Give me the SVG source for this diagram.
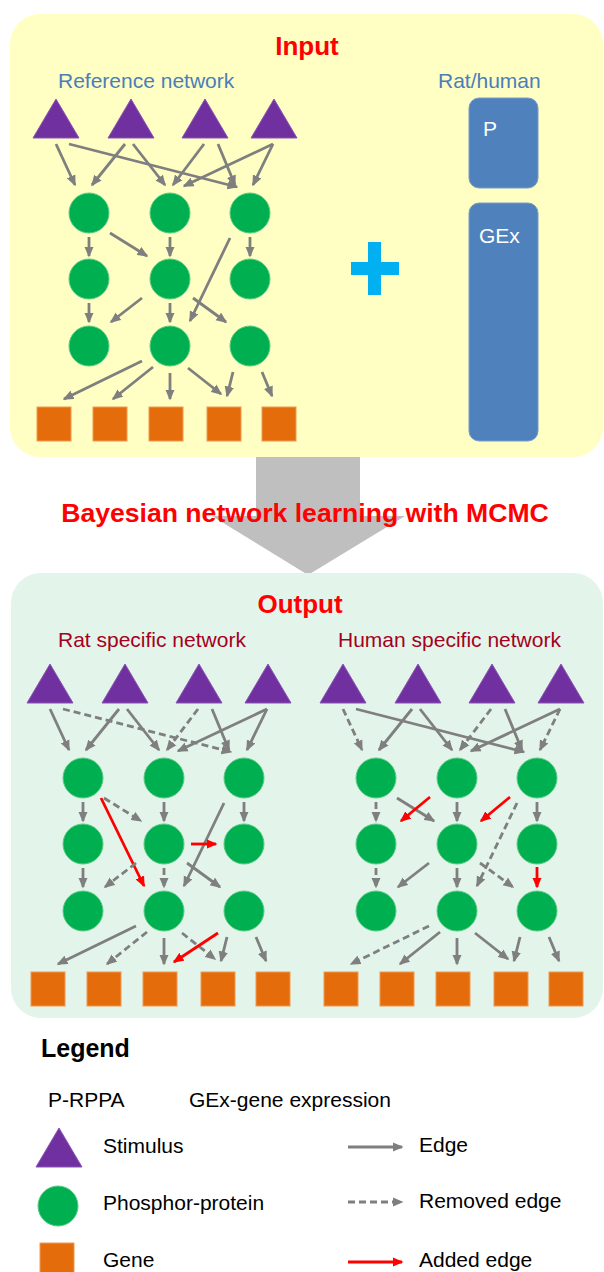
<svg xmlns="http://www.w3.org/2000/svg" xmlns:xlink="http://www.w3.org/1999/xlink" width="604" height="1272" viewBox="0 0 604 1272">
  <style>
    text { font-family: "Liberation Sans", Arial, sans-serif; }
    .title { font-size: 26px; font-weight: bold; fill: #FF0000; }
    .sub-blue { font-size: 21px; fill: #4A7EBB; }
    .sub-red { font-size: 21px; fill: #A50021; }
    .bar-label { font-size: 21px; fill: #FFFFFF; }
    .legend { font-size: 21px; fill: #000000; }
    .legend-title { font-size: 25px; font-weight: bold; fill: #000000; }
    .stim { fill: #7030A0; stroke: #8A55B5; stroke-width: 1; }
    .prot { fill: #00B050; stroke: #5CCB85; stroke-width: 1; }
    .gene { fill: #E46C0A; stroke: #EE9A55; stroke-width: 1; }
    .edge { stroke: #7F7F7F; stroke-width: 2.8; fill: none; marker-end: url(#ah-gray); }
    .removed { stroke-dasharray: 7 4; }
    .added { stroke: #FF0000; marker-end: url(#ah-red); }
  </style>
  <defs>
    <marker id="ah-gray" viewBox="0 0 11 10" refX="9.5" refY="5" markerWidth="11" markerHeight="10" markerUnits="userSpaceOnUse" orient="auto">
      <path d="M0,0.3 L11,5 L0,9.7 Z" fill="#7F7F7F"/>
    </marker>
    <marker id="ah-red" viewBox="0 0 11 10" refX="9.5" refY="5" markerWidth="11" markerHeight="10" markerUnits="userSpaceOnUse" orient="auto">
      <path d="M0,0.3 L11,5 L0,9.7 Z" fill="#FF0000"/>
    </marker>
  </defs>

  <rect width="604" height="1272" fill="#FFFFFF"/>

  <!-- processing step arrow between the two panels -->
  <g id="learning-arrow">
    <polygon points="256,450 360,450 360,516 405,516 308,575 212,516 256,516" fill="#BFBFBF"/>
  </g>

  <!-- panels -->
  <rect id="input-panel" x="10" y="14" width="593" height="443" rx="30" fill="#FFFFC3"/>
  <rect id="output-panel" x="11" y="573" width="592" height="445" rx="30" fill="#E3F4EA"/>

  <text class="title" x="307" y="55" text-anchor="middle">Input</text>
  <text class="title" x="305" y="522" text-anchor="middle" style="font-size:26.6px">Bayesian network learning with MCMC</text>
  <text class="title" x="300" y="613" text-anchor="middle">Output</text>

  <text class="sub-blue" x="58" y="88">Reference network</text>
  <text class="sub-blue" x="438" y="88">Rat/human</text>
  <text class="sub-red" x="58" y="647">Rat specific network</text>
  <text class="sub-red" x="338" y="647">Human specific network</text>

  <!-- data blocks -->
  <g id="data-p">
    <rect x="469" y="98" width="69" height="90" rx="10" fill="#4F81BD" stroke="#7A9CCB" stroke-width="1"/>
    <text class="bar-label" x="483" y="136">P</text>
  </g>
  <g id="data-gex">
    <rect x="469" y="203" width="69" height="238" rx="10" fill="#4F81BD" stroke="#7A9CCB" stroke-width="1"/>
    <text class="bar-label" x="479" y="243">GEx</text>
  </g>
  <g id="plus">
    <rect x="351" y="262" width="48" height="13" fill="#00B0F0"/>
    <rect x="368" y="242" width="13" height="53" fill="#00B0F0"/>
  </g>

  <!-- ===== Reference network ===== -->
  <g id="ref-network">
    <g id="ref-edges">
      <line class="edge" x1="56" y1="144" x2="75" y2="185"/>
      <line class="edge" x1="69" y1="144" x2="237" y2="187"/>
      <line class="edge" x1="125" y1="144" x2="92" y2="185"/>
      <line class="edge" x1="133" y1="144" x2="165" y2="185"/>
      <line class="edge" x1="204" y1="144" x2="173" y2="185"/>
      <line class="edge" x1="218" y1="144" x2="235" y2="185"/>
      <line class="edge" x1="273" y1="144" x2="184" y2="186"/>
      <line class="edge" x1="273" y1="144" x2="253" y2="185"/>
      <line class="edge" x1="89" y1="237" x2="89" y2="256"/>
      <line class="edge" x1="110" y1="233" x2="147" y2="256"/>
      <line class="edge" x1="170" y1="237" x2="170" y2="256"/>
      <line class="edge" x1="250" y1="237" x2="250" y2="256"/>
      <line class="edge" x1="230" y1="238" x2="190" y2="321"/>
      <line class="edge" x1="89" y1="303" x2="89" y2="322"/>
      <line class="edge" x1="142" y1="298" x2="111" y2="322"/>
      <line class="edge" x1="170" y1="303" x2="170" y2="322"/>
      <line class="edge" x1="193" y1="298" x2="226" y2="322"/>
      <line class="edge" x1="142" y1="361" x2="64" y2="399"/>
      <line class="edge" x1="153" y1="367" x2="113" y2="399"/>
      <line class="edge" x1="170" y1="373" x2="170" y2="399"/>
      <line class="edge" x1="188" y1="368" x2="221" y2="394"/>
      <line class="edge" x1="233" y1="372" x2="227" y2="396"/>
      <line class="edge" x1="262" y1="372" x2="272" y2="396"/>
    </g>
    <g id="ref-t1"><path class="stim" d="M56,99 L79,138 L33,138 Z"/></g>
    <g id="ref-t2"><path class="stim" d="M131,99 L154,138 L108,138 Z"/></g>
    <g id="ref-t3"><path class="stim" d="M205,99 L228,138 L182,138 Z"/></g>
    <g id="ref-t4"><path class="stim" d="M274,99 L297,138 L251,138 Z"/></g>
    <g id="ref-p1"><circle class="prot" cx="89" cy="213" r="20"/></g>
    <g id="ref-p2"><circle class="prot" cx="170" cy="213" r="20"/></g>
    <g id="ref-p3"><circle class="prot" cx="250" cy="213" r="20"/></g>
    <g id="ref-p4"><circle class="prot" cx="89" cy="279" r="20"/></g>
    <g id="ref-p5"><circle class="prot" cx="170" cy="279" r="20"/></g>
    <g id="ref-p6"><circle class="prot" cx="250" cy="279" r="20"/></g>
    <g id="ref-p7"><circle class="prot" cx="89" cy="346" r="20"/></g>
    <g id="ref-p8"><circle class="prot" cx="170" cy="346" r="20"/></g>
    <g id="ref-p9"><circle class="prot" cx="250" cy="346" r="20"/></g>
    <g id="ref-g1"><rect class="gene" x="37" y="407" width="34" height="34"/></g>
    <g id="ref-g2"><rect class="gene" x="93" y="407" width="34" height="34"/></g>
    <g id="ref-g3"><rect class="gene" x="149" y="407" width="34" height="34"/></g>
    <g id="ref-g4"><rect class="gene" x="207" y="407" width="34" height="34"/></g>
    <g id="ref-g5"><rect class="gene" x="262" y="407" width="34" height="34"/></g>
  </g>

  <!-- ===== Rat specific network ===== -->
  <g id="rat-network" transform="translate(-6,565)">
    <g id="rat-edges">
      <line class="edge" x1="56" y1="144" x2="75" y2="185"/>
      <line class="edge removed" x1="69" y1="144" x2="237" y2="187"/>
      <line class="edge" x1="125" y1="144" x2="92" y2="185"/>
      <line class="edge" x1="133" y1="144" x2="165" y2="185"/>
      <line class="edge removed" x1="204" y1="144" x2="173" y2="185"/>
      <line class="edge" x1="218" y1="144" x2="235" y2="185"/>
      <line class="edge" x1="273" y1="144" x2="184" y2="186"/>
      <line class="edge" x1="273" y1="144" x2="253" y2="185"/>
      <line class="edge" x1="89" y1="237" x2="89" y2="256"/>
      <line class="edge removed" x1="110" y1="233" x2="147" y2="256"/>
      <line class="edge added" x1="107" y1="233" x2="150" y2="321"/>
      <line class="edge" x1="170" y1="237" x2="170" y2="256"/>
      <line class="edge" x1="250" y1="237" x2="250" y2="256"/>
      <line class="edge" x1="230" y1="238" x2="190" y2="321"/>
      <line class="edge added" x1="197" y1="279" x2="222" y2="279"/>
      <line class="edge" x1="89" y1="303" x2="89" y2="322"/>
      <line class="edge removed" x1="142" y1="298" x2="111" y2="322"/>
      <line class="edge removed" x1="170" y1="303" x2="170" y2="322"/>
      <line class="edge" x1="193" y1="298" x2="226" y2="322"/>
      <line class="edge" x1="142" y1="361" x2="64" y2="399"/>
      <line class="edge removed" x1="153" y1="367" x2="113" y2="399"/>
      <line class="edge" x1="170" y1="373" x2="170" y2="399"/>
      <line class="edge removed" x1="188" y1="368" x2="221" y2="394"/>
      <line class="edge" x1="233" y1="372" x2="227" y2="396"/>
      <line class="edge" x1="262" y1="372" x2="272" y2="396"/>
      <line class="edge added" x1="224" y1="368" x2="180" y2="397"/>
    </g>
    <g id="rat-t1"><path class="stim" d="M56,99 L79,138 L33,138 Z"/></g>
    <g id="rat-t2"><path class="stim" d="M131,99 L154,138 L108,138 Z"/></g>
    <g id="rat-t3"><path class="stim" d="M205,99 L228,138 L182,138 Z"/></g>
    <g id="rat-t4"><path class="stim" d="M274,99 L297,138 L251,138 Z"/></g>
    <g id="rat-p1"><circle class="prot" cx="89" cy="213" r="20"/></g>
    <g id="rat-p2"><circle class="prot" cx="170" cy="213" r="20"/></g>
    <g id="rat-p3"><circle class="prot" cx="250" cy="213" r="20"/></g>
    <g id="rat-p4"><circle class="prot" cx="89" cy="279" r="20"/></g>
    <g id="rat-p5"><circle class="prot" cx="170" cy="279" r="20"/></g>
    <g id="rat-p6"><circle class="prot" cx="250" cy="279" r="20"/></g>
    <g id="rat-p7"><circle class="prot" cx="89" cy="346" r="20"/></g>
    <g id="rat-p8"><circle class="prot" cx="170" cy="346" r="20"/></g>
    <g id="rat-p9"><circle class="prot" cx="250" cy="346" r="20"/></g>
    <g id="rat-g1"><rect class="gene" x="37" y="407" width="34" height="34"/></g>
    <g id="rat-g2"><rect class="gene" x="93" y="407" width="34" height="34"/></g>
    <g id="rat-g3"><rect class="gene" x="149" y="407" width="34" height="34"/></g>
    <g id="rat-g4"><rect class="gene" x="207" y="407" width="34" height="34"/></g>
    <g id="rat-g5"><rect class="gene" x="262" y="407" width="34" height="34"/></g>
  </g>

  <!-- ===== Human specific network ===== -->
  <g id="human-network" transform="translate(287,565)">
    <g id="human-edges">
      <line class="edge removed" x1="56" y1="144" x2="75" y2="185"/>
      <line class="edge" x1="69" y1="144" x2="237" y2="187"/>
      <line class="edge" x1="125" y1="144" x2="92" y2="185"/>
      <line class="edge" x1="133" y1="144" x2="165" y2="185"/>
      <line class="edge removed" x1="204" y1="144" x2="173" y2="185"/>
      <line class="edge" x1="218" y1="144" x2="235" y2="185"/>
      <line class="edge" x1="273" y1="144" x2="184" y2="186"/>
      <line class="edge removed" x1="273" y1="144" x2="253" y2="185"/>
      <line class="edge removed" x1="89" y1="237" x2="89" y2="256"/>
      <line class="edge" x1="110" y1="233" x2="147" y2="256"/>
      <line class="edge added" x1="143" y1="232" x2="114" y2="256"/>
      <line class="edge" x1="170" y1="237" x2="170" y2="256"/>
      <line class="edge added" x1="223" y1="232" x2="194" y2="256"/>
      <line class="edge" x1="250" y1="237" x2="250" y2="256"/>
      <line class="edge removed" x1="230" y1="238" x2="190" y2="321"/>
      <line class="edge removed" x1="89" y1="303" x2="89" y2="322"/>
      <line class="edge" x1="142" y1="298" x2="111" y2="322"/>
      <line class="edge" x1="170" y1="303" x2="170" y2="322"/>
      <line class="edge removed" x1="193" y1="298" x2="226" y2="322"/>
      <line class="edge added" x1="250" y1="302" x2="250" y2="322"/>
      <line class="edge removed" x1="142" y1="361" x2="64" y2="399"/>
      <line class="edge" x1="153" y1="367" x2="113" y2="399"/>
      <line class="edge" x1="170" y1="373" x2="170" y2="399"/>
      <line class="edge" x1="188" y1="368" x2="221" y2="394"/>
      <line class="edge" x1="233" y1="372" x2="227" y2="396"/>
      <line class="edge" x1="262" y1="372" x2="272" y2="396"/>
    </g>
    <g id="human-t1"><path class="stim" d="M56,99 L79,138 L33,138 Z"/></g>
    <g id="human-t2"><path class="stim" d="M131,99 L154,138 L108,138 Z"/></g>
    <g id="human-t3"><path class="stim" d="M205,99 L228,138 L182,138 Z"/></g>
    <g id="human-t4"><path class="stim" d="M274,99 L297,138 L251,138 Z"/></g>
    <g id="human-p1"><circle class="prot" cx="89" cy="213" r="20"/></g>
    <g id="human-p2"><circle class="prot" cx="170" cy="213" r="20"/></g>
    <g id="human-p3"><circle class="prot" cx="250" cy="213" r="20"/></g>
    <g id="human-p4"><circle class="prot" cx="89" cy="279" r="20"/></g>
    <g id="human-p5"><circle class="prot" cx="170" cy="279" r="20"/></g>
    <g id="human-p6"><circle class="prot" cx="250" cy="279" r="20"/></g>
    <g id="human-p7"><circle class="prot" cx="89" cy="346" r="20"/></g>
    <g id="human-p8"><circle class="prot" cx="170" cy="346" r="20"/></g>
    <g id="human-p9"><circle class="prot" cx="250" cy="346" r="20"/></g>
    <g id="human-g1"><rect class="gene" x="37" y="407" width="34" height="34"/></g>
    <g id="human-g2"><rect class="gene" x="93" y="407" width="34" height="34"/></g>
    <g id="human-g3"><rect class="gene" x="149" y="407" width="34" height="34"/></g>
    <g id="human-g4"><rect class="gene" x="207" y="407" width="34" height="34"/></g>
    <g id="human-g5"><rect class="gene" x="262" y="407" width="34" height="34"/></g>
  </g>

  <!-- ===== Legend ===== -->
  <g id="legend">
    <text class="legend-title" x="41" y="1057">Legend</text>
    <text class="legend" x="48" y="1107">P-RPPA</text>
    <text class="legend" x="189" y="1107">GEx-gene expression</text>
    <g id="legend-stimulus">
      <path class="stim" d="M59,1128 L82,1167 L36,1167 Z"/>
      <text class="legend" x="103" y="1153">Stimulus</text>
    </g>
    <g id="legend-protein">
      <circle class="prot" cx="58" cy="1206" r="20"/>
      <text class="legend" x="103" y="1210">Phosphor-protein</text>
    </g>
    <g id="legend-gene">
      <rect class="gene" x="40" y="1243" width="34" height="34"/>
      <text class="legend" x="103" y="1267">Gene</text>
    </g>
    <g id="legend-edges">
      <line class="edge" x1="348" y1="1147" x2="402" y2="1147"/>
      <line class="edge removed" x1="348" y1="1202" x2="402" y2="1202"/>
      <line class="edge added" x1="348" y1="1262" x2="402" y2="1262"/>
    </g>
    <text class="legend" x="419" y="1152">Edge</text>
    <text class="legend" x="419" y="1208">Removed edge</text>
    <text class="legend" x="419" y="1267">Added edge</text>
  </g>
</svg>
